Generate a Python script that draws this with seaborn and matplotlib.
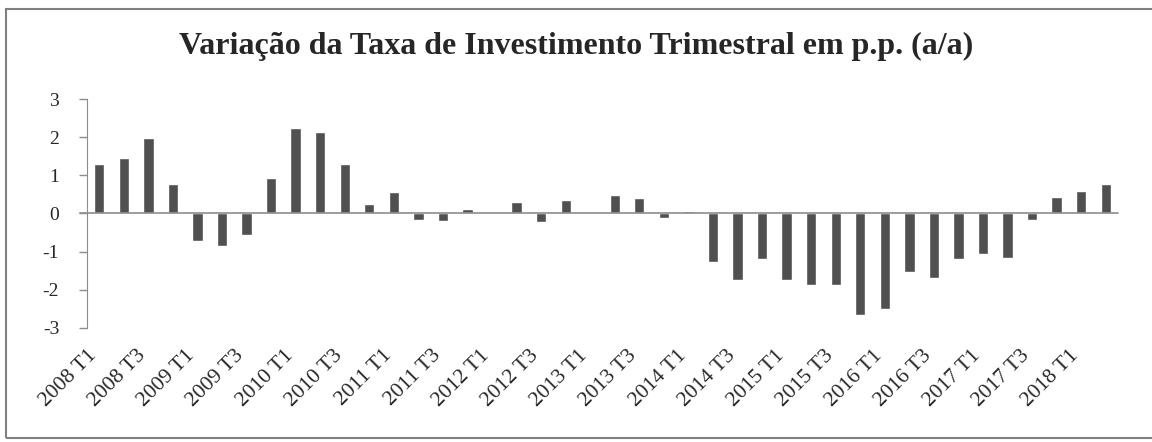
import seaborn as sns
import matplotlib.pyplot as plt
import matplotlib.patches as mpatches
from matplotlib.transforms import ScaledTranslation

# Quarterly data, 2008 T1 - 2018 T2
years = [2008, 2009, 2010, 2011, 2012, 2013, 2014, 2015, 2016, 2017, 2018]
quarters = [f"{y} T{q}" for y in years for q in range(1, 5)][:42]

variacao = [1.30, 1.45, 1.98, 0.78, -0.73, -0.86, -0.57, 0.92,
            2.25, 2.13, 1.30, 0.24, 0.57, -0.16, -0.19, 0.11,
            0.00, 0.31, -0.23, 0.35, 0.05, 0.48, 0.41, -0.12,
            0.07, -1.28, -1.74, -1.20, -1.74, -1.87, -1.87, -2.67,
            -2.49, -1.54, -1.70, -1.20, -1.07, -1.17, -0.18, 0.44,
            0.58, 0.78]

y_ticks = [-3, -2, -1, 0, 1, 2, 3]

sns.set_style('white')
plt.rcParams['font.family'] = ['Liberation Serif', 'DejaVu Serif']
plt.rcParams['axes.unicode_minus'] = False

fig = plt.figure(figsize=(11.52, 4.42), dpi=100)
ax = fig.add_axes([0.0755, 0.258, 0.895, 0.518])

sns.barplot(x=quarters, y=variacao, color='#505050', saturation=1,
            width=0.42, ax=ax)

ax.set_xlim(-0.5, len(quarters) - 0.5)
ax.set_ylim(-3, 3)
ax.set_yticks(y_ticks)
ax.set_yticklabels([str(v) for v in y_ticks], fontsize=14)

ax.set_xticks(range(0, len(quarters), 2))
ax.set_xticklabels(quarters[::2], rotation=45, ha='right',
                   rotation_mode='anchor', fontsize=15.5)
ax.tick_params(axis='x', length=0, pad=13)
ax.tick_params(axis='y', direction='out', length=6, width=1,
               color='#8c8c8c', left=True, pad=14)

# shift the category labels a bit to the left, as in the Excel original
shift = ScaledTranslation(-12 / 100, 0, fig.dpi_scale_trans)
for lbl in ax.get_xticklabels():
    lbl.set_transform(lbl.get_transform() + shift)

for side in ['top', 'right', 'bottom']:
    ax.spines[side].set_visible(False)
ax.spines['left'].set_color('#8c8c8c')

# zero line, extended a little past the y axis like Excel
ax.axhline(0, xmin=-0.007, xmax=1, color='#8c8c8c', lw=1.2, clip_on=False)

ax.set_xlabel('')
ax.set_ylabel('')

fig.text(0.5, 0.895, 'Variação da Taxa de Investimento Trimestral em p.p. (a/a)',
         ha='center', va='center', fontsize=23, fontweight='bold')

# chart frame
fig.patches.append(mpatches.Rectangle((6 / 1152, 4 / 442), 1150 / 1152, 429 / 442,
                                      transform=fig.transFigure, fill=False,
                                      edgecolor='#7f7f7f', lw=1.5))

fig.savefig('out.png', dpi=100)
